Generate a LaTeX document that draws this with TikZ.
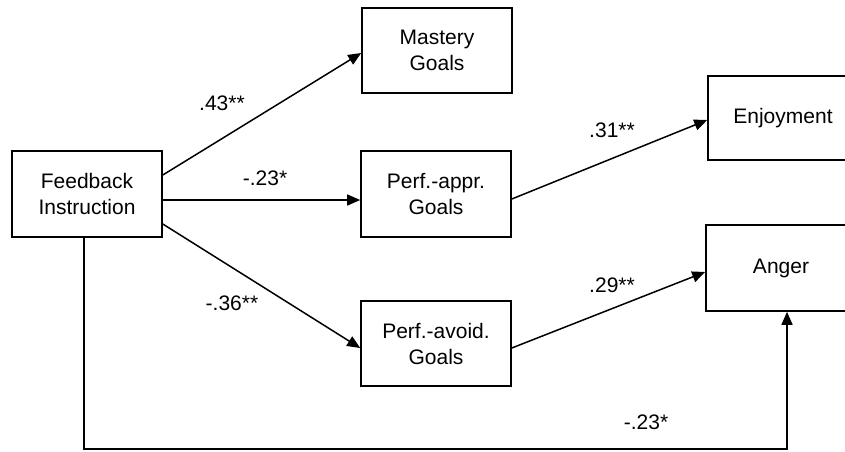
\documentclass[tikz,border=0pt]{standalone}
\usepackage{fontspec}
\setmainfont{Liberation Sans}
\usetikzlibrary{arrows.meta}
\tikzset{
  box/.style={draw, line width=1.6pt, minimum width=150pt, minimum height=85pt, inner sep=0pt, align=center, font=\fontsize{21}{26}\selectfont},
  arr/.style={line width=1.5pt, -{Triangle[length=13pt,width=11pt]}},
  lbl/.style={inner sep=0pt, font=\fontsize{21}{26}\selectfont}
}
\begin{document}
\begin{tikzpicture}[x=1pt,y=-1pt]
\useasboundingbox (0,0) rectangle (845,451);
\clip (0,0) rectangle (845,451);
\node[box, minimum height=86pt] (fb) at (87,194) {Feedback\\Instruction};
\node[box] (mg) at (437,50.5) {Mastery\\Goals};
\node[box, minimum height=86pt] (pa) at (436,194) {Perf.-appr.\\Goals};
\node[box] (pv) at (436,343.5) {Perf.-avoid.\\Goals};
\node[box, minimum height=84pt] (en) at (783,118) {Enjoyment};
\node[box, minimum height=86pt] (an) at (781,268) {Anger};
\draw[arr] ([yshift=19pt]fb.east) -- ([yshift=-2.5pt]mg.west);
\draw[arr] ([yshift=-6pt]fb.east) -- ([yshift=-6pt]pa.west);
\draw[arr] ([yshift=-30pt]fb.east) -- ([yshift=-4.5pt]pv.west);
\draw[arr] ([yshift=-5pt]pa.east) -- ([yshift=-2pt]en.west);
\draw[arr] ([yshift=-4.5pt]pv.east) -- ([yshift=-4pt]an.west);
\coordinate (fbs) at ([xshift=-3pt]fb.south);
\coordinate (ans) at ([xshift=6pt]an.south);
\coordinate (bot) at (0,449);
\draw[arr] (fbs) -- (fbs |- bot) -| (ans);
\node[lbl] (l1) at (222,103) {.43**};
\node[lbl] (l2) at (265,178) {-.23*};
\node[lbl] (l3) at (232,303) {-.36**};
\node[lbl] (l4) at (612,130) {.31**};
\node[lbl] (l5) at (612,285) {.29**};
\node[lbl] (l6) at (646,422) {-.23*};
\end{tikzpicture}
\end{document}
